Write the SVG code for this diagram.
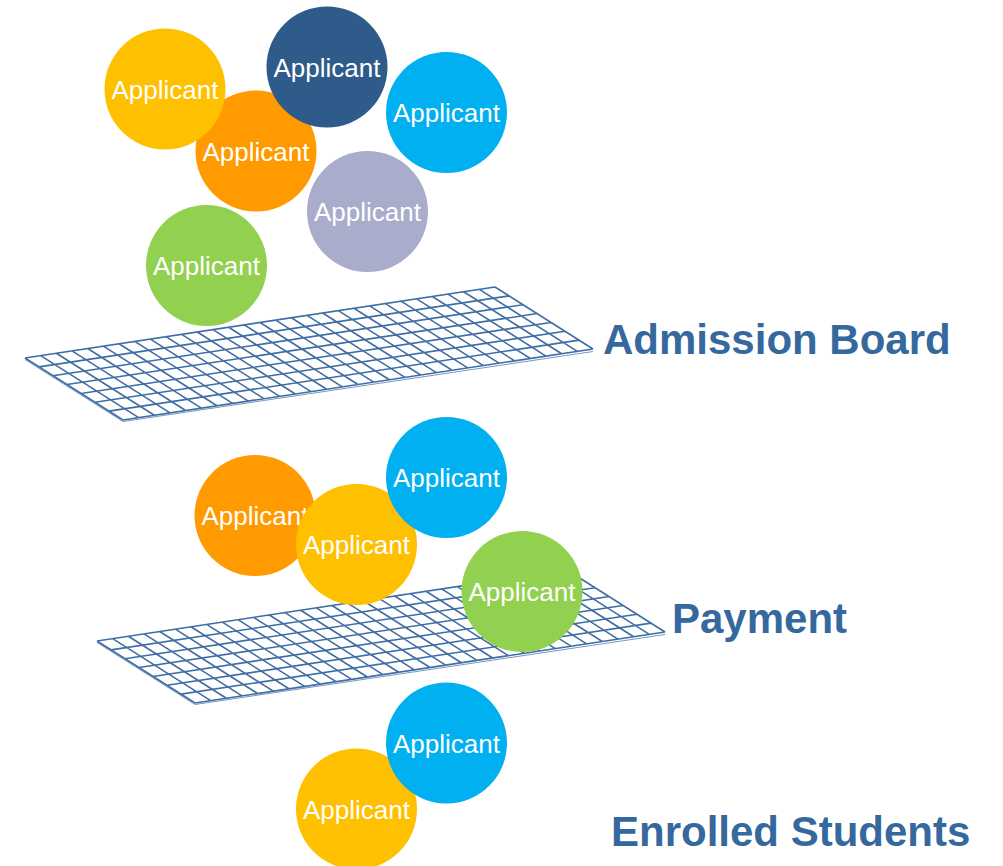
<svg xmlns="http://www.w3.org/2000/svg" xmlns:xlink="http://www.w3.org/1999/xlink" width="1003" height="866" viewBox="0 0 1003 866">
  <style>
    .lbl { font-family: "Liberation Sans", Arial, sans-serif; font-size: 26px; fill: #ffffff; text-anchor: middle; }
    .stage { font-family: "Liberation Sans", Arial, sans-serif; font-size: 42px; font-weight: bold; fill: #35699D; }
    .gridline { fill: none; stroke: #3F6EA5; stroke-width: 1.6; vector-effect: non-scaling-stroke; }
    .edge { fill: none; stroke: #3F6EA5; stroke-width: 1; opacity: 0.7; }
    .yellow { fill: #FFC000; }
    .orange { fill: #FF9A00; }
    .navy { fill: #2E5B8A; }
    .sky { fill: #00B0F0; }
    .gray { fill: #A9ACCA; }
    .green { fill: #92D050; }
  </style>
  <defs>
    <path id="gridpath" class="gridline" d="M0 0H30M0 1H30M0 2H30M0 3H30M0 4H30M0 5H30M0 6H30M0 7H30
      M0 0V7M1 0V7M2 0V7M3 0V7M4 0V7M5 0V7M6 0V7M7 0V7M8 0V7M9 0V7M10 0V7M11 0V7M12 0V7M13 0V7M14 0V7M15 0V7
      M16 0V7M17 0V7M18 0V7M19 0V7M20 0V7M21 0V7M22 0V7M23 0V7M24 0V7M25 0V7M26 0V7M27 0V7M28 0V7M29 0V7M30 0V7"/>
  </defs>
  <rect width="1003" height="866" fill="#ffffff"/>

  <!-- Stage 1: Admission Board -->
  <g id="grid-admission">
    <use xlink:href="#gridpath" href="#gridpath" transform="matrix(15.667 -2.367 14 8.857 25 358)"/>
    <path class="edge" d="M25 359.5L123 421.5L593 351.5"/>
  </g>
  <g id="a1-orange"><circle class="orange" cx="256" cy="151" r="60.5"/><text class="lbl" x="256" y="160.5">Applicant</text></g>
  <g id="a1-yellow"><circle class="yellow" cx="165" cy="89" r="60.5"/><text class="lbl" x="165" y="98.5">Applicant</text></g>
  <g id="a1-navy"><circle class="navy" cx="327" cy="67" r="60.5"/><text class="lbl" x="327" y="76.5">Applicant</text></g>
  <g id="a1-sky"><circle class="sky" cx="446.5" cy="112.5" r="60.5"/><text class="lbl" x="446.5" y="122">Applicant</text></g>
  <g id="a1-gray"><circle class="gray" cx="367.5" cy="211.5" r="60.5"/><text class="lbl" x="367.5" y="221">Applicant</text></g>
  <g id="a1-green"><circle class="green" cx="206.5" cy="265.5" r="60.5"/><text class="lbl" x="206.5" y="275">Applicant</text></g>
  <g id="label-admission"><text class="stage" x="603" y="354">Admission Board</text></g>

  <!-- Stage 2: Payment -->
  <g id="grid-payment">
    <use xlink:href="#gridpath" href="#gridpath" transform="matrix(15.667 -2.367 14 8.857 97 641)"/>
    <path class="edge" d="M97 642.5L195 704.5L665 634.5"/>
  </g>
  <g id="a2-orange"><circle class="orange" cx="255" cy="515.5" r="60.5"/><text class="lbl" x="255" y="525">Applicant</text></g>
  <g id="a2-yellow"><circle class="yellow" cx="356.5" cy="544.5" r="60.5"/><text class="lbl" x="356.5" y="554">Applicant</text></g>
  <g id="a2-sky"><circle class="sky" cx="446.5" cy="477.5" r="60.5"/><text class="lbl" x="446.5" y="487">Applicant</text></g>
  <g id="a2-green"><circle class="green" cx="522" cy="591.5" r="60.5"/><text class="lbl" x="522" y="601">Applicant</text></g>
  <g id="label-payment"><text class="stage" x="672" y="633">Payment</text></g>

  <!-- Stage 3: Enrolled Students -->
  <g id="a3-yellow"><circle class="yellow" cx="356.5" cy="809" r="60.5"/><text class="lbl" x="356.5" y="818.5">Applicant</text></g>
  <g id="a3-sky"><circle class="sky" cx="446.5" cy="743" r="60.5"/><text class="lbl" x="446.5" y="752.5">Applicant</text></g>
  <g id="label-enrolled"><text class="stage" x="611" y="846">Enrolled Students</text></g>
</svg>
